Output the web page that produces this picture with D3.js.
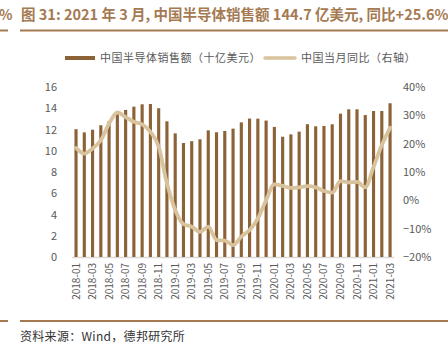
<!DOCTYPE html>
<html><head><meta charset="utf-8">
<script src="https://cdn.jsdelivr.net/npm/d3@7/dist/d3.min.js"></script>
<style>body{margin:0;background:#fff;}svg{display:block;}text{font-family:"Noto Sans CJK SC","Noto Sans",sans-serif;}</style>
</head><body>
<script>
const months = ["2018-01","2018-02","2018-03","2018-04","2018-05","2018-06","2018-07","2018-08","2018-09","2018-10","2018-11","2018-12",
"2019-01","2019-02","2019-03","2019-04","2019-05","2019-06","2019-07","2019-08","2019-09","2019-10","2019-11","2019-12",
"2020-01","2020-02","2020-03","2020-04","2020-05","2020-06","2020-07","2020-08","2020-09","2020-10","2020-11","2020-12",
"2021-01","2021-02","2021-03"];
const sales = [12.03,11.73,11.98,12.40,12.78,13.60,13.84,14.15,14.37,14.40,14.00,12.77,
11.64,10.73,10.90,11.08,11.92,11.74,11.86,12.08,12.67,13.03,13.02,12.84,
12.24,11.32,11.54,11.80,12.50,12.30,12.33,12.49,13.49,13.90,13.90,13.36,
13.74,13.74,14.47];
const yoy = [18.5,16.5,18.3,21.2,27.1,31.0,29.4,27.7,26.8,24.2,18.9,6.0,
-3.4,-8.4,-9.3,-11.1,-9.3,-14.0,-14.2,-15.8,-12.8,-10.5,-6.4,0.1,
5.6,5.1,4.4,4.6,5.0,4.6,3.3,2.7,6.8,6.3,6.5,4.6,
11.8,19.5,25.6];
const leftTicks = [0,2,4,6,8,10,12,14,16];
const rightTicks = [-20,-10,0,10,20,30,40];
const title = "图 31: 2021 年 3 月, 中国半导体销售额 144.7 亿美元, 同比+25.6%";
const legendNames = ["中国半导体销售额（十亿美元）","中国当月同比（右轴）"];
const source = "资料来源：Wind，德邦研究所";

const W = 448, H = 357;
const barColor = "#8c6239", lineColor = "#d8c39c", accent = "#a57a52", txt = "#595959";
const svg = d3.select("body").append("svg").attr("width", W).attr("height", H);

// title
svg.append("text").attr("x", -1).attr("y", 20).attr("fill", accent).attr("font-size", 14).attr("font-weight", "bold").text("%");
svg.append("line").attr("x1", 0).attr("x2", 8).attr("y1", 30.5).attr("y2", 30.5).attr("stroke", accent).attr("stroke-width", 2);
svg.append("text").attr("x", 21).attr("y", 20).attr("fill", accent).attr("font-size", 14.5).attr("font-weight", "bold").text(title);
svg.append("line").attr("x1", 20).attr("x2", 448).attr("y1", 30.5).attr("y2", 30.5).attr("stroke", accent).attr("stroke-width", 2);

// scales
const x = d3.scaleBand().domain(months).range([71.9, 394.2]).paddingInner(0.62).paddingOuter(0.31);
const yL = d3.scaleLinear().domain([0,16]).range([257, 87]);
const yR = d3.scaleLinear().domain([-20,40]).range([257, 87]);

// left axis
const gl = svg.append("g").attr("transform", "translate(62,0)")
  .call(d3.axisLeft(yL).tickValues(leftTicks).tickSize(0).tickPadding(5));
gl.select(".domain").remove();
gl.selectAll("text").attr("fill", txt).attr("font-size", 11).attr("font-family", "Liberation Sans, Arial, sans-serif");

// right axis
const gr = svg.append("g").attr("transform", "translate(398,0)")
  .call(d3.axisRight(yR).tickValues(rightTicks).tickSize(0).tickPadding(5).tickFormat(d => (d < 0 ? "\u2212" + (-d) : d) + "%"));
gr.select(".domain").remove();
gr.selectAll("text").attr("fill", txt).attr("font-size", 11).attr("font-family", "Liberation Sans, Arial, sans-serif");

// baseline
svg.append("line").attr("x1", 71.9).attr("x2", 394.2).attr("y1", 257.5).attr("y2", 257.5).attr("stroke", "#d9d9d9").attr("stroke-width", 1.5);

// bars
svg.append("g").selectAll("rect").data(sales).join("rect")
  .attr("x", (d,i) => x(months[i])).attr("width", x.bandwidth())
  .attr("y", d => yL(d)).attr("height", d => yL(0) - yL(d))
  .attr("fill", barColor);

// line
const line = d3.line().x((d,i) => x(months[i]) + x.bandwidth()/2).y(d => yR(d)).curve(d3.curveMonotoneX);
svg.append("path").datum(yoy).attr("d", line).attr("fill", "none").attr("stroke", lineColor).attr("stroke-width", 3.8).attr("stroke-linejoin", "round").attr("stroke-linecap", "round");

// x labels
const xl = svg.append("g").attr("transform", "translate(0,259)")
  .call(d3.axisBottom(x).tickValues(months.filter((m,i) => i % 2 === 0)).tickSize(0).tickPadding(0));
xl.select(".domain").remove();
xl.selectAll("text").attr("fill", txt).attr("font-size", 10).attr("font-family", "Liberation Sans, Arial, sans-serif")
  .attr("transform", "rotate(-90)").attr("text-anchor", "end").attr("x", -4).attr("y", 0).attr("dy", "0.35em");

// legend
const lg = svg.append("g");
lg.append("rect").attr("x", 65).attr("y", 56).attr("width", 30).attr("height", 4).attr("fill", barColor);
lg.append("text").attr("x", 100).attr("y", 62).attr("fill", txt).attr("font-size", 11).attr("letter-spacing", 0.5).text(legendNames[0]);
lg.append("line").attr("x1", 265).attr("x2", 295).attr("y1", 58).attr("y2", 58).attr("stroke", lineColor).attr("stroke-width", 3.5).attr("stroke-linecap", "round");
lg.append("text").attr("x", 301).attr("y", 62).attr("fill", txt).attr("font-size", 11).attr("letter-spacing", 0.5).text(legendNames[1]);

// footer
svg.append("line").attr("x1", 0).attr("x2", 8).attr("y1", 321).attr("y2", 321).attr("stroke", accent).attr("stroke-width", 2);
svg.append("line").attr("x1", 20).attr("x2", 448).attr("y1", 321).attr("y2", 321).attr("stroke", accent).attr("stroke-width", 2);
svg.append("text").attr("x", 20).attr("y", 341).attr("fill", "#333").attr("font-size", 12).attr("letter-spacing", 0.3).text(source);
</script>
</body></html>
